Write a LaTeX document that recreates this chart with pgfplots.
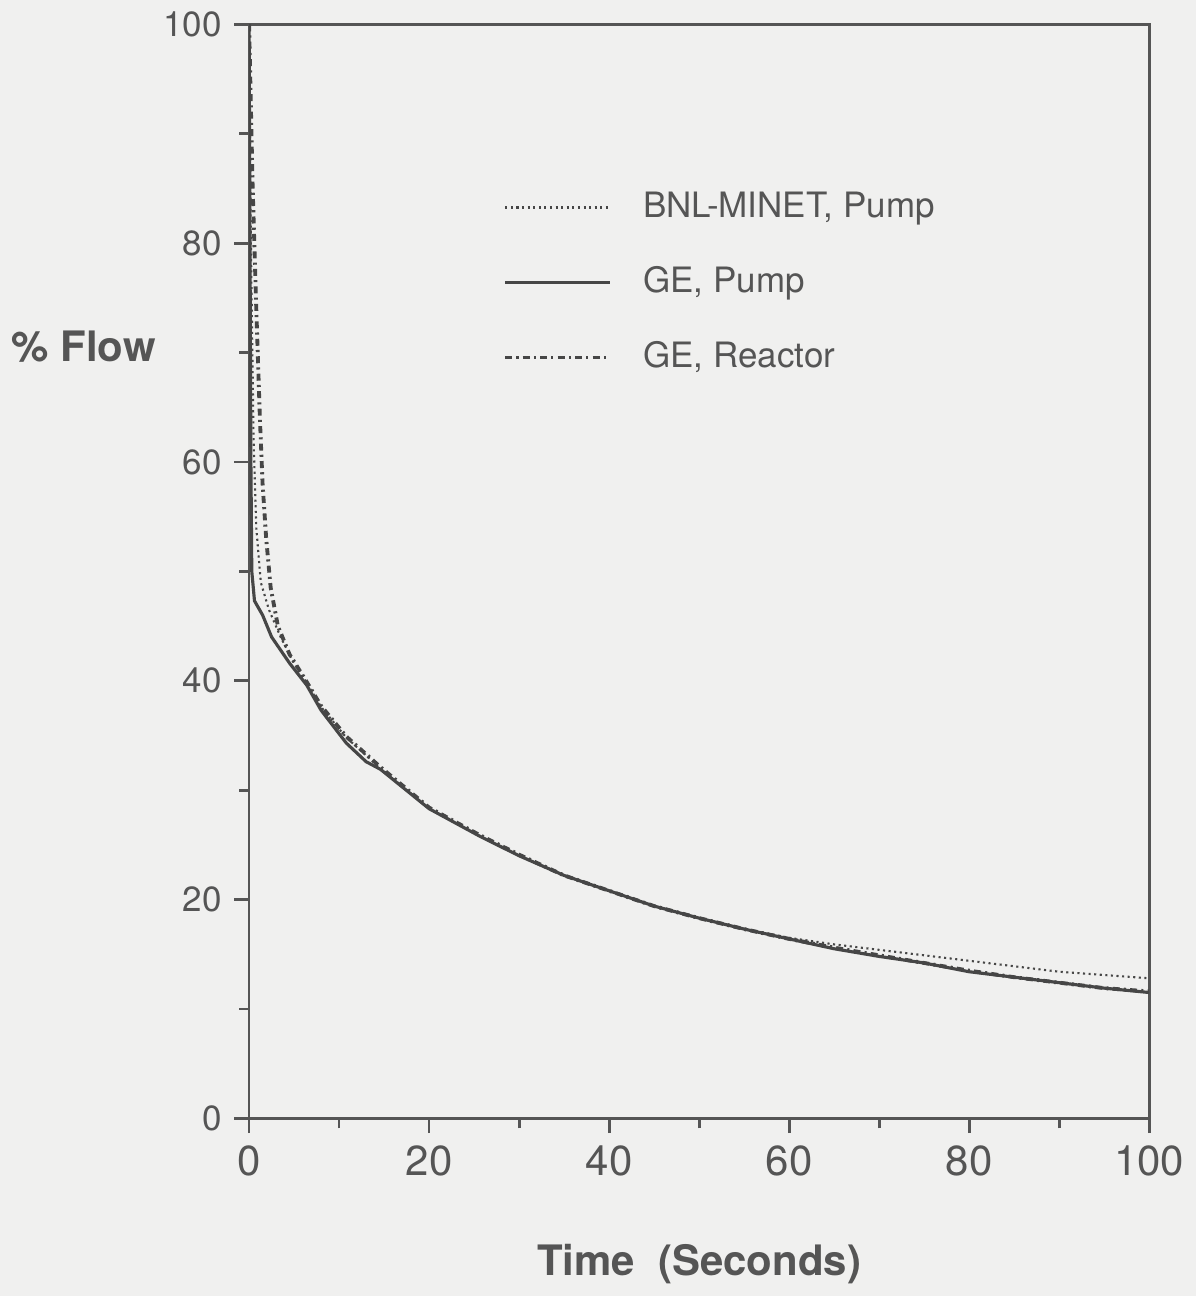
\documentclass[border=0pt]{standalone}
\usepackage{fontspec}
\setmainfont{TeX Gyre Heros}
\usepackage{pgfplots}
\pgfplotsset{compat=1.18}
\usetikzlibrary{backgrounds}
\definecolor{paper}{RGB}{240,240,239}
\definecolor{ink}{RGB}{85,85,85}
\definecolor{curve}{RGB}{70,70,70}

\begin{document}
\begin{tikzpicture}[background rectangle/.style={fill=paper},show background rectangle,inner frame sep=0pt]
\begin{axis}[
  scale only axis,
  width=9.05cm, height=11cm,
  xmin=0, xmax=100, ymin=0, ymax=100,
  axis line style={ink, line width=0.8pt},
  tick style={ink, line width=0.8pt},
  xtick={0,20,...,100}, minor xtick={10,30,...,90},
  ytick={0,20,...,100}, minor ytick={10,30,...,90},
  tick pos=left,
  tick align=outside,
  major tick length=0.15cm, minor tick length=0.1cm,
  /pgf/number format/assume math mode=true,
  xticklabel style={font=\large, text=ink},
  yticklabel style={font=\normalsize, text=ink},
  xlabel={Time\ \ (Seconds)},
  xlabel style={font=\large\bfseries, text=ink, yshift=-0.45cm},
  ylabel={\% Flow},
  ylabel style={font=\large\bfseries, text=ink, rotate=-90, anchor=east,
                at={(axis description cs:-0.09,0.705)}},
  legend style={draw=none, fill=none, at={(axis description cs:0.27,0.86)},
                anchor=north west, font=\normalsize, text=ink,
                row sep=0.3cm, legend cell align=left},
  legend image code/.code={\draw[#1] (0cm,0cm) -- (1.05cm,0cm); \path (1.3cm,0cm);},
]
% BNL-MINET, Pump
\addplot[curve, line width=0.6pt, densely dotted] coordinates {
  (0,100) (0.2,80) (0.5,62) (0.8,54) (1.3,49) (2.2,46.5) (3.5,44) (5,41.6)
  (6.4,39.8) (8,37.6) (10.8,34.8) (14.6,32.0) (20,28.3) (25.6,25.8) (30,24.0)
  (35,22.2) (40,20.8) (45,19.4) (50,18.3) (55,17.3) (60,16.5) (65,15.9)
  (70,15.4) (75,14.9) (80,14.4) (85,13.9) (90,13.4) (95,13.1) (100,12.8)
};
\addlegendentry{BNL-MINET, Pump}
% GE, Pump
\addplot[curve, line width=0.9pt] coordinates {
  (0,100) (0.1,80) (0.2,60) (0.3,50) (0.6,47.3) (1.5,46) (2.5,44) (4.5,41.6)
  (6.4,39.6) (8,37.3) (10.8,34.3) (13,32.6) (14.6,31.9) (20,28.3) (25.6,25.8)
  (30,24.0) (35,22.2) (40,20.8) (45,19.4) (50,18.3) (55,17.3) (60,16.4)
  (65,15.5) (70,14.8) (75,14.2) (80,13.4) (85,12.9) (90,12.4) (95,11.9) (100,11.5)
};
\addlegendentry{GE, Pump}
% GE, Reactor
\addplot[curve, line width=1.1pt, dash pattern=on 2pt off 1.2pt on 0.6pt off 1.2pt] coordinates {
  (0,100) (0.4,85) (0.8,74) (1.2,64) (1.5,58) (1.9,53) (2.4,48.5) (3.2,45)
  (4.5,42.4) (6.4,39.9) (8,37.7) (10.8,34.9) (14.6,32.1) (20,28.4) (25.6,25.9)
  (30,24.1) (35,22.2) (40,20.8) (45,19.4) (50,18.3) (55,17.3) (60,16.4)
  (65,15.6) (70,14.9) (75,14.2) (80,13.5) (85,12.9) (90,12.4) (95,11.9) (100,11.6)
};
\addlegendentry{GE, Reactor}
\end{axis}
\end{tikzpicture}
\end{document}
